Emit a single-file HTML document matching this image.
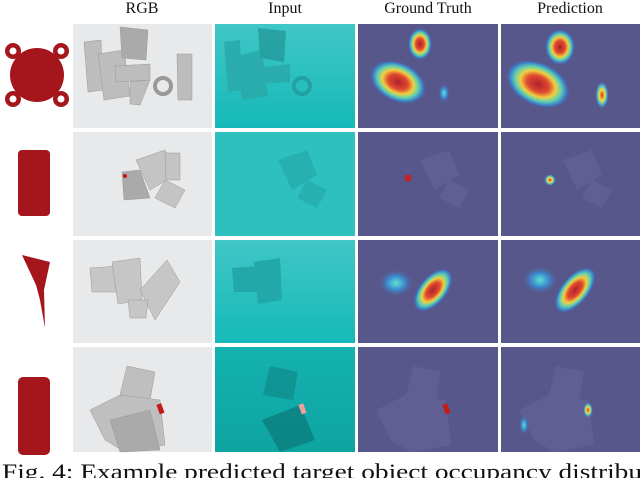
<!DOCTYPE html>
<html><head><meta charset="utf-8"><style>
body{margin:0;width:640px;height:478px;overflow:hidden;background:#fff;font-family:"Liberation Serif",serif}
svg{display:block}
</style></head><body>
<svg width="640" height="478" viewBox="0 0 640 478">
<defs>
<linearGradient id="teal1" x1="0" y1="0" x2="0" y2="1"><stop offset="0" stop-color="#40c6c6"/><stop offset="1" stop-color="#16b9b9"/></linearGradient>
<linearGradient id="teal4" x1="0" y1="0" x2="0" y2="1"><stop offset="0" stop-color="#14b2b0"/><stop offset="1" stop-color="#0ea4a2"/></linearGradient>
<radialGradient id="hot"><stop offset="0" stop-color="#b0202a"/><stop offset="0.35" stop-color="#e04a30"/><stop offset="0.55" stop-color="#f0d040"/><stop offset="0.72" stop-color="#5fd0b0"/><stop offset="0.88" stop-color="#3a7cc8"/><stop offset="1" stop-color="#58578c" stop-opacity="0"/></radialGradient>
<radialGradient id="cool"><stop offset="0" stop-color="#60e0d0"/><stop offset="0.5" stop-color="#3a8ad0"/><stop offset="1" stop-color="#58578c" stop-opacity="0"/></radialGradient>
<radialGradient id="warm"><stop offset="0" stop-color="#d83028"/><stop offset="0.4" stop-color="#f0e040"/><stop offset="0.7" stop-color="#40b0d8"/><stop offset="1" stop-color="#58578c" stop-opacity="0"/></radialGradient>
</defs>

<g font-size="16" fill="#111" text-anchor="middle">
<text x="142" y="13">RGB</text>
<text x="285" y="13">Input</text>
<text x="428" y="13">Ground Truth</text>
<text x="570" y="13">Prediction</text>
</g>

<!-- objects -->
<g fill="#a5161c">
<g>
<circle cx="37" cy="75" r="27"/>
<circle cx="13" cy="51" r="8"/><circle cx="61" cy="51" r="8"/><circle cx="13" cy="99" r="8"/><circle cx="61" cy="99" r="8"/>
<circle cx="13" cy="51" r="3.5" fill="#fff"/><circle cx="61" cy="51" r="3.5" fill="#fff"/><circle cx="13" cy="99" r="3.5" fill="#fff"/><circle cx="61" cy="99" r="3.5" fill="#fff"/>
</g>
<rect x="18" y="150" width="32" height="66" rx="4"/>
<path d="M22,255 L50,262 L44,290 L45,328 L40,300 L36,285 Z"/>
<rect x="18" y="377" width="32" height="78" rx="5"/>
</g>

<!-- rows -->
<g>
<rect x="73" y="24" width="139" height="104" fill="#e8e9ea"/>
<g fill="#bdbdbd" stroke="#999" stroke-width="0.5"><path d="M84,42 L101,40 L103,90 L88,92Z"/><path d="M98,54 L124,50 L130,96 L104,100Z"/><path d="M120,27 L148,30 L146,60 L122,58Z" fill="#aaa"/><path d="M115,66 L150,64 L150,80 L116,82Z"/><circle cx="163" cy="86" r="8" fill="none" stroke="#999" stroke-width="4"/><path d="M177,54 L192,54 L192,100 L178,100Z"/><path d="M130,82 L150,80 L140,105 L130,104Z"/></g>
<rect x="215" y="24" width="140" height="104" fill="url(#teal1)"/>
<g fill="#2aa8a8" opacity="0.8"><path d="M224,42 L240,40 L242,90 L228,92Z"/><path d="M236,56 L262,50 L268,96 L242,100Z"/><path d="M258,28 L286,31 L284,62 L260,58Z" fill="#249a9a"/><path d="M255,68 L290,64 L290,82 L256,84Z"/><circle cx="302" cy="86" r="8" fill="none" stroke="#249a9a" stroke-width="4"/></g>
<rect x="358" y="24" width="140" height="104" fill="#58578c"/>
<ellipse cx="420" cy="44" rx="12" ry="16" fill="url(#hot)"/>
<ellipse cx="398" cy="82" rx="30" ry="20" fill="url(#hot)" transform="rotate(25 398 82)"/>
<ellipse cx="444" cy="93" rx="6" ry="10" fill="url(#cool)"/>
<rect x="501" y="24" width="139" height="104" fill="#58578c"/>
<ellipse cx="560" cy="47" rx="15" ry="18" fill="url(#hot)"/>
<ellipse cx="538" cy="84" rx="34" ry="22" fill="url(#hot)" transform="rotate(25 538 84)"/>
<ellipse cx="602" cy="95" rx="7" ry="14" fill="url(#warm)"/>
</g>

<g>
<rect x="73" y="132" width="139" height="104" fill="#e8e9ea"/>
<g fill="#c4c4c4" stroke="#999" stroke-width="0.5"><path d="M136,160 L165,150 L175,175 L150,190Z"/><path d="M165,180 L185,190 L175,208 L155,198Z"/><path d="M165,153 L180,153 L180,180 L166,180Z"/><path d="M122,172 L140,170 L150,198 L124,200Z" fill="#aaa"/></g>
<circle cx="125" cy="176" r="2" fill="#d01010"/>
<rect x="215" y="132" width="140" height="104" fill="#2ebfbf"/>
<g fill="#27b0b0"><path d="M278,160 L307,150 L317,175 L292,190Z"/><path d="M307,180 L327,190 L317,208 L297,198Z"/></g>
<rect x="358" y="132" width="140" height="104" fill="#58578c"/>
<g fill="#5f5f94"><path d="M420,160 L449,150 L459,175 L434,190Z"/><path d="M449,180 L469,190 L459,208 L439,198Z"/></g>
<rect x="405" y="175" width="6" height="6" fill="#c82020"/>
<rect x="501" y="132" width="139" height="104" fill="#58578c"/>
<g fill="#5f5f94"><path d="M563,160 L592,150 L602,175 L577,190Z"/><path d="M592,180 L612,190 L602,208 L582,198Z"/></g>
<ellipse cx="550" cy="180" rx="6" ry="6" fill="url(#warm)"/>
</g>

<g>
<rect x="73" y="240" width="139" height="103" fill="#e8e9ea"/>
<g fill="#c6c6c6" stroke="#999" stroke-width="0.5"><path d="M90,268 L118,266 L118,292 L92,292Z"/><path d="M112,262 L140,258 L142,300 L118,304Z"/><path d="M140,290 L167,260 L180,282 L155,320Z"/><path d="M128,300 L148,300 L146,318 L130,318Z"/></g>
<rect x="215" y="240" width="140" height="103" fill="url(#teal1)"/>
<g fill="#22a8a8"><path d="M232,268 L258,266 L258,292 L234,292Z"/><path d="M254,262 L280,258 L282,300 L258,304Z"/></g>
<rect x="358" y="240" width="140" height="103" fill="#58578c"/>
<ellipse cx="396" cy="283" rx="18" ry="14" fill="url(#cool)"/>
<ellipse cx="433" cy="290" rx="14" ry="26" fill="url(#hot)" transform="rotate(40 433 290)"/>
<rect x="501" y="240" width="139" height="103" fill="#58578c"/>
<ellipse cx="540" cy="280" rx="18" ry="14" fill="url(#cool)"/>
<ellipse cx="575" cy="290" rx="14" ry="28" fill="url(#hot)" transform="rotate(40 575 290)"/>
</g>

<g>
<rect x="73" y="347" width="139" height="105" fill="#e8e9ea"/>
<g fill="#bfbfbf" stroke="#999" stroke-width="0.5"><path d="M127,366 L155,372 L150,400 L120,395Z"/><path d="M90,410 L120,395 L160,400 L165,445 L125,452 L105,440Z"/><path d="M110,420 L150,410 L160,450 L120,452Z" fill="#aaa"/></g>
<rect x="158" y="404" width="5" height="10" fill="#c81818" transform="rotate(-20 160 409)"/>
<rect x="215" y="347" width="140" height="105" fill="url(#teal4)"/>
<g fill="#0f8e8e" opacity="0.8"><path d="M270,366 L298,372 L293,400 L263,395Z"/><path d="M262,420 L300,405 L315,440 L280,452Z" fill="#0c7e7e"/></g>
<rect x="300" y="404" width="5" height="10" fill="#f0a0a0" transform="rotate(-20 302 409)"/>
<rect x="358" y="347" width="140" height="105" fill="#58578c"/>
<g fill="#5f5f94"><path d="M413,366 L441,372 L436,400 L406,395Z"/><path d="M376,410 L406,395 L446,400 L451,445 L411,452 L391,440Z"/></g>
<rect x="444" y="404" width="5" height="10" fill="#c81818" transform="rotate(-20 446 409)"/>
<rect x="501" y="347" width="139" height="105" fill="#58578c"/>
<g fill="#5f5f94"><path d="M556,366 L584,372 L579,400 L549,395Z"/><path d="M519,410 L549,395 L589,400 L594,445 L554,452 L534,440Z"/></g>
<ellipse cx="588" cy="410" rx="5" ry="8" fill="url(#warm)"/>
<ellipse cx="524" cy="425" rx="5" ry="10" fill="url(#cool)"/>
</g>

<text x="2" y="479" font-size="22" fill="#111" textLength="640" lengthAdjust="spacingAndGlyphs">Fig. 4: Example predicted target object occupancy distribu</text>
</svg>
</body></html>
